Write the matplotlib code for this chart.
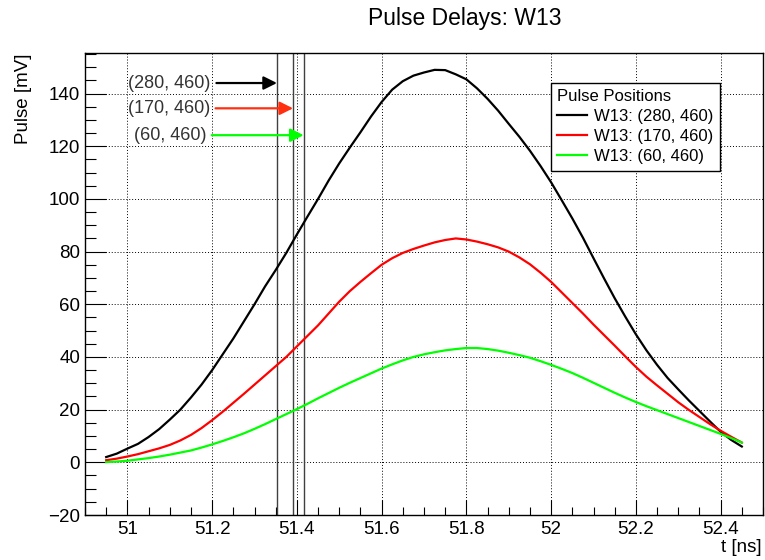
import matplotlib
matplotlib.use("Agg")
import matplotlib.pyplot as plt
from matplotlib.ticker import MultipleLocator, FormatStrFormatter

plt.rcParams['font.family'] = ['Liberation Sans', 'DejaVu Sans']

# sample times [ns], every 0.025 ns
t = [round(50.95 + 0.025 * k, 3) for k in range(61)]

# pulse amplitudes [mV]
pulse_280 = [2.0, 3.3, 5.2, 7.0, 9.6, 12.6, 16.2, 20.0, 24.6, 29.5, 35.0,
             41.0, 47.0, 53.5, 60.0, 66.8, 73.0, 79.5, 86.5, 93.3, 100.0,
             107.0, 113.5, 119.5, 125.3, 131.3, 136.8, 141.5, 144.7, 146.8, 148.0,
             149.0, 148.9, 147.3, 145.4, 142.0, 138.0, 133.5, 128.5, 123.6, 118.3,
             112.5, 106.3, 99.5, 92.6, 85.3, 77.5, 69.8, 62.3, 55.3, 48.6,
             42.5, 37.0, 32.0, 27.7, 23.5, 19.5, 15.5, 11.6, 8.5, 6.0]
pulse_170 = [0.8, 1.4, 2.2, 3.1, 4.2, 5.3, 6.6, 8.3, 10.4, 13.0, 16.0,
             19.2, 22.6, 26.0, 29.5, 33.0, 36.5, 40.0, 44.0, 48.0, 52.0,
             56.5, 61.0, 65.0, 68.5, 71.8, 75.0, 77.5, 79.5, 81.0, 82.3,
             83.5, 84.4, 85.0, 84.6, 83.8, 82.8, 81.6, 80.0, 77.8, 75.2,
             72.0, 68.5, 64.5, 60.5, 56.5, 52.3, 48.3, 44.3, 40.2, 36.2,
             32.5, 29.2, 26.0, 22.8, 19.9, 17.2, 14.5, 12.0, 9.7, 7.5]
pulse_60 = [0.1, 0.3, 0.6, 1.1, 1.6, 2.2, 2.9, 3.7, 4.5, 5.6, 6.8,
            8.1, 9.5, 11.0, 12.7, 14.5, 16.4, 18.3, 20.2, 22.2, 24.3,
            26.3, 28.3, 30.2, 32.0, 33.8, 35.6, 37.2, 38.7, 40.0, 41.0,
            41.8, 42.5, 43.0, 43.4, 43.4, 43.0, 42.4, 41.6, 40.7, 39.7,
            38.4, 37.0, 35.5, 33.9, 32.1, 30.2, 28.3, 26.4, 24.6, 22.9,
            21.3, 19.8, 18.3, 16.8, 15.3, 13.8, 12.3, 10.8, 9.2, 7.5]

series = [pulse_280, pulse_170, pulse_60]
labels = ['W13: (280, 460)', 'W13: (170, 460)', 'W13: (60, 460)']
colors = ['black', '#ff0000', '#00ff00']

# delay markers and their annotations
delays = [51.353, 51.391, 51.416]
marker_labels = ['(280, 460)', '(170, 460)', '(60, 460)']
marker_y = [144.0, 134.4, 124.2]
marker_text_x = [51.197, 51.195, 51.186]
arrow_colors = ['black', '#ff3010', '#00ff00']

fig = plt.figure(figsize=(7.65, 5.6), dpi=100)
ax = fig.add_axes([85 / 765, 1 - 515 / 560, 678 / 765, 462 / 560])

for y, lab, c in zip(series, labels, colors):
    ax.plot(t, y, color=c, lw=1.6, label=lab, zorder=3)

for d in delays:
    ax.axvline(d, color='#404040', lw=1.0, zorder=2)

for lab, y, tx, d, c in zip(marker_labels, marker_y, marker_text_x, delays, arrow_colors):
    ax.annotate(lab, xy=(d, y), xytext=(tx, y), ha='right', va='center',
                fontsize=13, color='#333333',
                arrowprops=dict(arrowstyle='-|>', color=c, lw=1.6,
                                mutation_scale=20, shrinkA=2, shrinkB=0))

ax.set_xlim(50.9, 52.5)
ax.set_ylim(-20, 155.4)

ax.xaxis.set_major_locator(MultipleLocator(0.2))
ax.xaxis.set_minor_locator(MultipleLocator(0.05))
ax.yaxis.set_major_locator(MultipleLocator(20))
ax.yaxis.set_minor_locator(MultipleLocator(5))
ax.xaxis.set_major_formatter(FormatStrFormatter('%g'))

ax.tick_params(axis='y', which='major', direction='in', length=15, width=0.8,
               labelsize=13.5, pad=3.5)
ax.tick_params(axis='y', which='minor', direction='in', length=8, width=0.8)
ax.tick_params(axis='x', which='major', direction='in', length=11, width=0.8,
               labelsize=13.5, pad=4)
ax.tick_params(axis='x', which='minor', direction='in', length=5.5, width=0.8)

ax.grid(True, which='major', linestyle=(0, (1, 2)), color='black', lw=0.7)
for s in ax.spines.values():
    s.set_linewidth(1.0)

leg = ax.legend(title='Pulse Positions', loc='upper left',
                bbox_to_anchor=(0.687, 0.936), borderaxespad=0,
                fontsize=12, title_fontsize=12, alignment='left',
                fancybox=False, framealpha=1, edgecolor='black',
                handlelength=1.75, handletextpad=0.42, labelspacing=0.3,
                borderpad=0.4)
leg.get_frame().set_linewidth(1.0)

fig.text(465 / 765, 1 - 18 / 560, 'Pulse Delays: W13', ha='center', va='center',
         fontsize=16.5)
fig.text(24 / 765, 1 - 53 / 560, 'Pulse [mV]', rotation=90, ha='center', va='top',
         fontsize=13.5)
fig.text(762 / 765, 1 - 548 / 560, 't [ns]', ha='right', va='center', fontsize=13.5)

fig.savefig('out.png', dpi=100)
